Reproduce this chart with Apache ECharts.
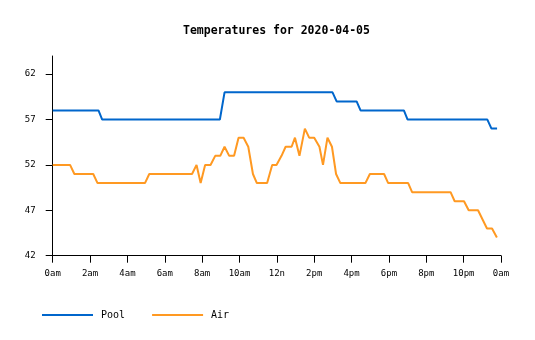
<!DOCTYPE html>
<html>
<head>
<meta charset="utf-8">
<script src="https://cdn.jsdelivr.net/npm/echarts@6/dist/echarts.min.js"></script>
<style>html,body{margin:0;padding:0;background:#fff}#c{width:535px;height:340px}</style>
</head>
<body>
<div id="c"></div>
<script>
var titleText = 'Temperatures for 2020-04-05';
var xTickLabels = ['0am','2am','4am','6am','8am','10am','12n','2pm','4pm','6pm','8pm','10pm','0am'];
var yTicks = [42, 47, 52, 57, 62];

var poolTimes = [0, 2.45, 2.65, 8.95, 9.2, 14.98, 15.2, 16.27, 16.48, 18.8, 19.0, 23.27, 23.49, 23.79];
var poolTemps = [58, 58, 57, 57, 60, 60, 59, 59, 58, 58, 57, 57, 56, 56];

var airTimes = [0, 0.93, 1.16, 2.17, 2.4, 4.94, 5.17, 7.46, 7.7, 7.92, 8.16, 8.45, 8.7, 8.97, 9.2, 9.45, 9.71, 9.95, 10.22, 10.47, 10.72, 10.93, 11.48, 11.75, 11.98, 12.25, 12.47, 12.79, 12.97, 13.21, 13.5, 13.73, 14.0, 14.28, 14.47, 14.71, 14.95, 15.17, 15.4, 16.74, 16.98, 17.74, 17.96, 19.03, 19.24, 21.3, 21.52, 22.02, 22.27, 22.77, 23.25, 23.52, 23.78];
var airTemps = [52, 52, 51, 51, 50, 50, 51, 51, 52, 50, 52, 52, 53, 53, 54, 53, 53, 55, 55, 54, 51, 50, 50, 52, 52, 53, 54, 54, 55, 53, 56, 55, 55, 54, 52, 55, 54, 51, 50, 50, 51, 51, 50, 50, 49, 49, 48, 48, 47, 47, 45, 45, 44];

function pairs(t, v) { return t.map(function (x, i) { return [x, v[i]]; }); }

var FONT = '"DejaVu Sans Mono", "Liberation Mono", monospace';
var chart = echarts.init(document.getElementById('c'), null, {renderer: 'canvas'});
chart.setOption({
  animation: false,
  backgroundColor: '#ffffff',
  title: {
    text: titleText,
    left: 183, top: 25, padding: 0,
    textStyle: {fontFamily: FONT, fontSize: 11.5, fontWeight: 'bold', color: '#000'}
  },
  legend: {
    left: 41, top: 310, padding: 0,
    itemWidth: 51, itemHeight: 10, itemGap: 26,
    itemStyle: {opacity: 0},
    lineStyle: {width: 2},
    textStyle: {fontFamily: FONT, fontSize: 10, color: '#000', padding: [2, 0, 0, 3]},
    data: ['Pool', 'Air']
  },
  grid: {left: 52.7, right: 34, top: 56, bottom: 84.3, containLabel: false},
  xAxis: {
    type: 'value', min: 0, max: 24, interval: 2,
    axisLine: {lineStyle: {color: '#000', width: 1}},
    axisTick: {length: 7, lineStyle: {color: '#000'}},
    splitLine: {show: false},
    axisLabel: {
      fontFamily: FONT, fontSize: 9, color: '#000', margin: 13,
      formatter: function (v) { return xTickLabels[Math.round(v / 2)]; }
    }
  },
  yAxis: {
    type: 'value', min: 42, max: 64,
    axisLine: {show: true, lineStyle: {color: '#000', width: 1}},
    axisTick: {show: true, length: 7, customValues: yTicks, lineStyle: {color: '#000'}},
    splitLine: {show: false},
    axisLabel: {fontFamily: FONT, fontSize: 9, color: '#000', margin: 17, customValues: yTicks}
  },
  series: [
    {name: 'Pool', type: 'line', data: pairs(poolTimes, poolTemps), symbol: 'none', color: '#0066cc', lineStyle: {width: 2, color: '#0066cc'}},
    {name: 'Air', type: 'line', data: pairs(airTimes, airTemps), symbol: 'none', color: '#ff9922', lineStyle: {width: 2, color: '#ff9922'}}
  ]
});
</script>
</body>
</html>
